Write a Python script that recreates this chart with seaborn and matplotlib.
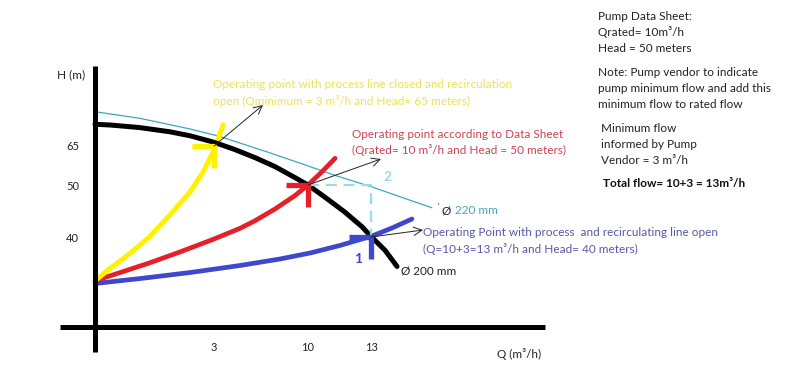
import numpy as np
import matplotlib
matplotlib.use("Agg")
import matplotlib.pyplot as plt
from matplotlib.path import Path
import seaborn as sns

# ---------------- data ----------------
# Pump curve, impeller 200 mm
q_d200 = [0, 0.38, 1.13, 1.89, 2.40, 2.90, 3.22, 4.56, 6.05, 7.54, 9.03,
          10, 10.81, 11.76, 12.57, 13, 13.67, 14.24]
h_d200 = [73.35, 73.08, 72.08, 70.46, 68.92, 66.85, 66.04, 63.62, 60.54, 57.08,
          52.85, 50, 47.65, 44.77, 41.98, 40.1, 37.44, 34.33]
# Pump curve, impeller 220 mm
q_d220 = [0, 1.13, 2.40, 3.45, 4.56, 7.02, 9.55, 11.29, 13.05, 14.76, 15.9]
h_d220 = [78.19, 75.65, 71.54, 68.65, 66.77, 62.62, 58.15, 53.69, 49.62, 47.21, 45.62]
# System curve: process closed, recirculation open (yellow)
q_sys_min = [0, 0.38, 0.88, 1.39, 1.89, 2.40, 2.73, 2.98, 3.69]
h_sys_min = [31.6, 33.94, 36.83, 40.15, 44.23, 48.71, 55.12, 62.81, 73.08]
# System curve: data sheet (red)
q_sys_ds = [0, 0.63, 1.39, 2.14, 2.97, 4.94, 6.05, 7.54, 9.03, 10, 10.67, 11.29]
h_sys_ds = [31.6, 33.15, 35.06, 37.12, 39.52, 41.67, 43.12, 45.38, 47.96, 50,
            55.12, 60.27]
# System curve: process + recirculation open (blue)
q_sys_all = [0, 1.13, 2.40, 4.94, 7.91, 10.1, 11.52, 13.05, 14.0, 14.95]
h_sys_all = [31.06, 32.0, 33.17, 34.52, 35.77, 36.92, 38.37, 40.19, 41.73, 43.46]

# Operating points
op_q = [3, 10, 13]
op_h = [65, 50, 40]

x_ticks = [3, 10, 13]
y_ticks = [40, 50, 65]

# ---------------- non-linear sketch scales ----------------
def pw(v, xs, ys):
    v = np.asarray(v, dtype=float)
    xs = np.asarray(xs, float)
    ys = np.asarray(ys, float)
    out = np.interp(v, xs, ys)
    sl = (ys[1] - ys[0]) / (xs[1] - xs[0])
    sr = (ys[-1] - ys[-2]) / (xs[-1] - xs[-2])
    out = np.where(v < xs[0], ys[0] + (v - xs[0]) * sl, out)
    out = np.where(v > xs[-1], ys[-1] + (v - xs[-1]) * sr, out)
    return out

QK = [0, 3, 10, 13]
QP = [95, 214, 308, 371]
HK = [40, 50, 65]
HP = [-237, -185, -146]

fx = lambda v: pw(v, QK, QP)
ix = lambda p: pw(p, QP, QK)
fy = lambda v: pw(v, HK, HP)
iy = lambda p: pw(p, HP, HK)

W, H = 800, 385
sns.set_style("white")
plt.rcParams["font.family"] = ["Lato", "DejaVu Sans"]

fig = plt.figure(figsize=(8, 3.85), dpi=100)
ax = fig.add_axes([0, 0, 1, 1])
ax.set_xscale("function", functions=(fx, ix))
ax.set_yscale("function", functions=(fy, iy))
ax.set_xlim(float(ix(0)), float(ix(W)))
ax.set_ylim(float(iy(-H)), float(iy(0)))

YELLOW = "#FFF200"
RED = "#E5202B"
BLUE = "#3F48CC"
TEAL = "#3FA6BE"
LTEAL = "#99D9EA"

# curves
sns.lineplot(x=q_d220, y=h_d220, sort=False, color=TEAL, lw=0.9, ax=ax)
sns.lineplot(x=q_sys_all, y=h_sys_all, sort=False, color=BLUE, lw=3.4, ax=ax)
sns.lineplot(x=q_sys_ds, y=h_sys_ds, sort=False, color=RED, lw=3.4, ax=ax)
sns.lineplot(x=q_sys_min, y=h_sys_min, sort=False, color=YELLOW, lw=3.6, ax=ax)
sns.lineplot(x=q_d200, y=h_d200, sort=False, color="black", lw=3.6, ax=ax)
for ln in ax.lines:
    ln.set_solid_joinstyle("round")
    ln.set_solid_capstyle("round")

# dashed construction lines to point 2
ax.plot([op_q[1], op_q[2], op_q[2]], [op_h[1], op_h[1], op_h[2]],
        color=LTEAL, lw=1.6, ls=(0, (5, 3)))

# operating point marks (bar to the left and bar downwards)
corner = Path([(-1, 0), (0, 0), (0, -1)], [Path.MOVETO, Path.LINETO, Path.LINETO])
for q, h, c in zip(op_q, op_h, [YELLOW, RED, BLUE]):
    ax.plot([q], [h], marker=corner, ms=31, mew=3.8, mec=c, mfc="none",
            ls="none")

# axes as thick spines
for s in ["top", "right"]:
    ax.spines[s].set_visible(False)
ax.spines["left"].set_position(("data", 0))
ax.spines["left"].set_bounds(float(iy(-352)), float(iy(-66)))
ax.spines["bottom"].set_position(("data", float(iy(-327))))
ax.spines["bottom"].set_bounds(float(ix(60)), float(ix(545)))
for s in ["left", "bottom"]:
    ax.spines[s].set_linewidth(3.6)
    ax.spines[s].set_color("black")
    ax.spines[s].set_capstyle("butt")

ax.set_xticks(x_ticks)
ax.set_xticklabels([str(t) for t in x_ticks])
ax.set_yticks(y_ticks)
ax.set_yticklabels([str(t) for t in y_ticks])
ax.tick_params(axis="both", which="major", direction="inout", length=13,
               width=0.9, color="#333333", labelsize=8, labelcolor="#222222")
ax.tick_params(axis="x", pad=4)
ax.tick_params(axis="y", pad=5)
ax.grid(False)


def fp(x, y):
    return (x, H - y)


def ftext(x, y, s, **kw):
    kw.setdefault("fontsize", 8.5)
    kw.setdefault("va", "center")
    kw.setdefault("ha", "left")
    fig.text(x / W, 1 - y / H, s, **kw)


# arrows from operating points to their notes
for (q, h), tip in zip(zip(op_q, op_h), [(263, 105), (381, 159), (423, 230)]):
    ax.annotate("", xy=fp(*tip), xycoords="figure pixels",
                xytext=(q, h), textcoords="data",
                arrowprops=dict(arrowstyle="->,head_length=0.6,head_width=0.3",
                                color="#222222", lw=0.7, shrinkA=0, shrinkB=0))

# axis titles
ftext(57, 75, "H (m)", color="#222222")
ftext(497, 354, "Q (m³/h)", color="#222222")

# notes on the chart
ftext(213, 85, "Operating point with process line closed and recirculation",
      color="#ECE257")
ftext(213, 101, "open (Qminimum = 3 m³/h and Head= 65 meters)", color="#ECE257")
ftext(352, 134, "Operating point according to Data Sheet", color="#CC4458")
ftext(352, 150, "(Qrated= 10 m³/h and Head = 50 meters)", color="#CC4458")
ftext(423, 233, "Operating Point with process  and recirculating line open",
      color="#5858A8")
ftext(423, 249, "(Q=10+3=13 m³/h and Head= 40 meters)", color="#5858A8")

ftext(401, 271, "Ø 200 mm", color="#222222")
ftext(438, 207, "'", color="#222222", fontsize=6)
ftext(442, 211, "Ø", color="#222222")
ftext(455, 211, "220 mm", color=TEAL)

ftext(383, 177, "2", color=LTEAL, fontsize=10, fontweight="bold")
ftext(354, 259, "1", color=BLUE, fontsize=10, fontweight="bold")

# data sheet block
ftext(598, 16, "Pump Data Sheet:", color="#222222")
ftext(598, 32, "Qrated= 10m³/h", color="#222222")
ftext(598, 48, "Head = 50 meters", color="#222222")
ftext(598, 73, "Note: Pump vendor to indicate", color="#222222")
ftext(598, 89, "pump minimum flow and add this", color="#222222")
ftext(598, 105, "minimum flow to rated flow", color="#222222")
ftext(601, 129, "Minimum flow", color="#222222")
ftext(601, 144, "informed by Pump", color="#222222")
ftext(601, 160, "Vendor = 3 m³/h", color="#222222")
ftext(603, 183, "Total flow= 10+3 = 13m³/h", color="#111111", fontweight="bold")

fig.savefig("out.png", dpi=100)
